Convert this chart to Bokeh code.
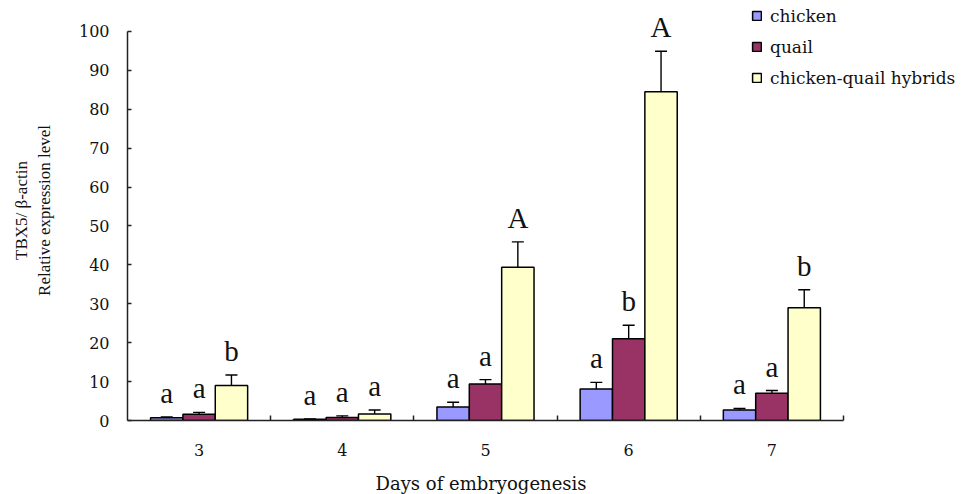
import pandas as pd
from bokeh.plotting import figure
from bokeh.models import (ColumnDataSource, Range1d, FixedTicker, Whisker, TeeHead,
                          Legend, LegendItem, Title)
from bokeh.transform import dodge
from bokeh.core.properties import value
from bokeh.embed import file_html
from bokeh.resources import INLINE

# ---- data ----
days = ["3", "4", "5", "6", "7"]
series = ["chicken", "quail", "chicken-quail hybrids"]
chicken = [0.7, 0.3, 3.5, 8.1, 2.7]
chicken_err = [0.2, 0.1, 1.2, 1.7, 0.4]
quail = [1.6, 0.8, 9.4, 21.0, 7.0]
quail_err = [0.5, 0.4, 1.1, 3.5, 0.7]
hybrid = [9.0, 1.7, 39.4, 84.5, 29.0]
hybrid_err = [2.7, 1.0, 6.5, 10.4, 4.6]
chicken_sig = ["a", "a", "a", "a", "a"]
quail_sig = ["a", "a", "a", "b", "a"]
hybrid_sig = ["b", "a", "A", "A", "b"]
y_ticks = [0, 10, 20, 30, 40, 50, 60, 70, 80, 90, 100]
x_title = "Days of embryogenesis"
y_title = "TBX5/ \u03b2-actin\nRelative expression level"

colors = ["#9999FF", "#993366", "#FFFFCC"]
offsets = [-0.226, 0.0, 0.226]
bar_w = 0.226

# frame spans the whole right/top area; axis lines are limited with bounds
p = figure(width=977, height=494, output_backend="svg", toolbar_location=None,
           x_range=Range1d(-0.5, 5.422), y_range=Range1d(0, 107.95),
           min_border_left=127, min_border_right=2, min_border_top=0,
           min_border_bottom=73)
p.outline_line_color = None
p.xgrid.grid_line_color = None
p.ygrid.grid_line_color = None
p.background_fill_color = "white"
p.border_fill_color = "white"

renderers = []
for vals, errs, sig, col, off, name in zip(
        [chicken, quail, hybrid], [chicken_err, quail_err, hybrid_err],
        [chicken_sig, quail_sig, hybrid_sig], colors, offsets, series):
    df = pd.DataFrame({"x": list(range(len(days))), "top": vals, "err": errs, "lab": sig})
    df["errtop"] = df["top"] + df["err"]
    src = ColumnDataSource(df)
    r = p.vbar(x=dodge("x", off, range=p.x_range), top="top", bottom=0, width=bar_w,
               source=src, fill_color=col, line_color="black", line_width=1.5)
    renderers.append((name, r))
    w = Whisker(source=src, base=dodge("x", off, range=p.x_range), lower="top",
                upper="errtop", dimension="height", line_color="black", line_width=1.4,
                upper_head=TeeHead(size=12, line_color="black", line_width=1.4),
                lower_head=None)
    p.add_layout(w)
    p.text(x=dodge("x", off, range=p.x_range), y="errtop", text="lab", source=src,
           text_align="center", text_baseline="alphabetic", y_offset=-24,
           text_font=value("Liberation Serif"), text_font_size="29px",
           text_color="#111111")

# x axis
xa = p.xaxis[0]
xa.bounds = (-0.5, 4.5)
xa.ticker = FixedTicker(ticks=list(range(len(days))),
                        minor_ticks=[i + 0.5 for i in range(len(days))])
xa.major_label_overrides = {i: d for i, d in enumerate(days)}
xa.major_tick_line_color = None
xa.minor_tick_line_color = "#222222"
xa.minor_tick_in = 5
xa.minor_tick_out = 0
xa.minor_tick_line_width = 1.5
xa.axis_line_color = "#222222"
xa.axis_line_width = 1.5
xa.major_label_standoff = 17
xa.major_label_text_font = "DejaVu Serif"
xa.major_label_text_font_size = "16px"
xa.major_label_text_color = "#111111"

# small spacer, then the x title aligned with the bounded axis line
spacer = Title(text=" ", standoff=10, text_font_size="1px")
p.add_layout(spacer, "below")
xt = Title(text=x_title, align="left", offset=248, standoff=0,
           text_font="DejaVu Serif", text_font_size="18px", text_font_style="normal",
           text_color="#111111", vertical_align="middle")
p.add_layout(xt, "below")

# y axis
ya = p.yaxis[0]
ya.bounds = (0, 100)
ya.ticker = FixedTicker(ticks=y_ticks)
ya.major_tick_in = 4
ya.major_tick_out = 0
ya.major_tick_line_color = "#222222"
ya.major_tick_line_width = 1.5
ya.minor_tick_line_color = None
ya.axis_line_color = "#222222"
ya.axis_line_width = 1.5
ya.major_label_standoff = 18
ya.major_label_text_font = "DejaVu Serif"
ya.major_label_text_font_size = "16px"
ya.major_label_text_color = "#111111"
ya.axis_label = y_title
ya.axis_label_text_font = "Liberation Serif"
ya.axis_label_text_font_size = "17px"
ya.axis_label_text_font_style = "normal"
ya.axis_label_text_color = "#111111"
ya.axis_label_standoff = 22

legend = Legend(items=[LegendItem(label=n, renderers=[r]) for n, r in renderers],
                location=(624, 331), border_line_color=None, background_fill_alpha=0,
                glyph_width=11, glyph_height=11, label_standoff=8, spacing=8,
                padding=0, margin=0, label_height=23,
                label_text_font="DejaVu Serif", label_text_font_size="17px",
                label_text_color="#111111")
p.add_layout(legend, "center")

open("out.html", "w").write(file_html(p, INLINE))
